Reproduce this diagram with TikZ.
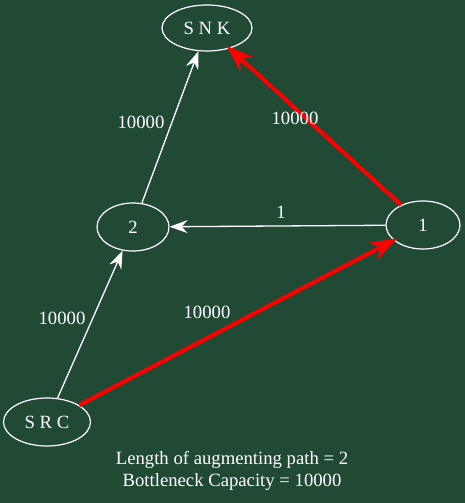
\documentclass[tikz,border=0pt]{standalone}
\usepackage{fontspec}
\setmainfont{Liberation Serif}
\usepackage{xcolor}
\usepackage{tikz}
\usetikzlibrary{shapes.geometric, arrows.meta}
\definecolor{boardgreen}{HTML}{214A35}
\tikzstyle{vertex} = [ellipse, draw=white, line width=1.2pt, text=white, inner sep=0pt, minimum width=72pt, minimum height=48pt, font=\fontsize{18.7}{22}\selectfont]
\tikzstyle{weight} = [text=white, inner sep=0pt, font=\fontsize{18.7}{22}\selectfont]
\tikzstyle{arrow} = [white, line width=1.3pt, -{Stealth[length=18pt, width=13pt, inset=6pt]}]
\tikzstyle{augpath} = [red, line width=4pt, shorten >=-4pt, -{Stealth[length=27pt, width=19pt, inset=8pt]}]

\begin{document}
\begin{tikzpicture}[x=1pt, y=1pt]
\fill [boardgreen] (0,0) rectangle (465,503);
\useasboundingbox (0,0) rectangle (465,503);
\node (snk) [vertex, minimum width=90pt, minimum height=46pt] at (207,475) {S N K};
\node (two) [vertex] at (133,276) {2};
\node (one) [vertex, minimum width=74pt] at (423,278) {1};
\node (src) [vertex, minimum width=87pt] at (47,81) {S R C};

\draw [arrow] (src) -- (two);
\draw [arrow] (two) -- (snk);
\draw [arrow] (one) -- (two);
\draw [augpath] (src) -- (one);
\draw [augpath] (one) -- (snk);

\node (wSrcTwo) [weight] at (62,185) {10000};
\node (wTwoSnk) [weight] at (141,381) {10000};
\node (wOneTwo) [weight] at (281,291) {1};
\node (wSrcOne) [weight] at (207,191) {10000};
\node (wOneSnk) [weight] at (295,385) {10000};

\node (caption) [weight, align=center] at (232,32) {Length of augmenting path = 2\\Bottleneck Capacity = 10000};
\end{tikzpicture}
\end{document}
